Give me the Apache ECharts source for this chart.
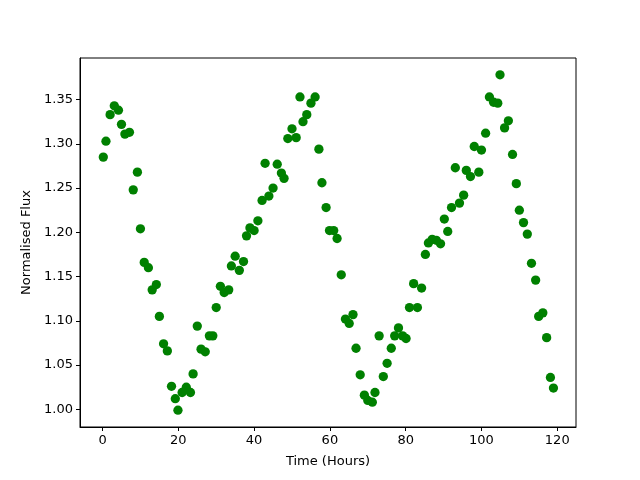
<!DOCTYPE html>
<html>
<head>
<meta charset="utf-8">
<script src="https://cdn.jsdelivr.net/npm/echarts@6/dist/echarts.min.js"></script>
<style>
  html, body { margin: 0; padding: 0; background: #fff; }
  #chart { width: 640px; height: 480px; }
</style>
</head>
<body>
<div id="chart"></div>
<script>
// time of each sample, hours
var hours = [
  0.2, 0.9, 2.0, 3.1, 4.2, 5.0, 5.9, 7.1, 8.1, 9.2,
  10.0, 11.0, 12.1, 13.1, 14.2, 15.0, 16.1, 17.1, 18.2, 19.2,
  19.9, 21.0, 22.1, 23.2, 23.9, 25.0, 26.0, 27.1, 28.2, 29.1,
  30.0, 31.1, 32.1, 33.3, 34.0, 35.0, 36.1, 37.2, 38.0, 38.9,
  40.0, 41.0, 42.1, 42.9, 43.9, 45.0, 46.1, 47.2, 47.9, 48.9,
  50.0, 51.1, 52.1, 52.9, 53.9, 55.0, 56.1, 57.1, 57.9, 59.0,
  59.9, 61.0, 61.9, 63.0, 64.1, 65.1, 66.1, 66.9, 68.0, 69.1,
  70.0, 71.2, 71.9, 73.0, 74.1, 75.1, 76.2, 77.1, 78.1, 79.2,
  80.1, 81.0, 82.1, 83.1, 84.2, 85.2, 86.0, 87.0, 88.1, 89.2,
  90.2, 91.1, 92.1, 93.1, 94.2, 95.3, 96.0, 97.1, 98.1, 99.3,
  100.0, 101.1, 102.1, 103.2, 104.3, 104.9, 106.1, 107.1, 108.2, 109.2,
  110.0, 111.1, 112.1, 113.2, 114.3, 115.1, 116.2, 117.2, 118.2, 119.0
];
// normalised flux
var flux = [
  1.285, 1.303, 1.333, 1.343, 1.338, 1.322, 1.311, 1.313, 1.248, 1.268,
  1.204, 1.166, 1.160, 1.135, 1.141, 1.105, 1.074, 1.066, 1.026, 1.012,
  0.999, 1.019, 1.025, 1.019, 1.040, 1.094, 1.068, 1.065, 1.083, 1.083,
  1.115, 1.139, 1.132, 1.135, 1.162, 1.173, 1.157, 1.167, 1.196, 1.205,
  1.202, 1.213, 1.236, 1.278, 1.241, 1.250, 1.277, 1.267, 1.261, 1.306,
  1.317, 1.307, 1.353, 1.325, 1.333, 1.346, 1.353, 1.294, 1.256, 1.228,
  1.202, 1.202, 1.193, 1.152, 1.102, 1.097, 1.107, 1.069, 1.039, 1.016,
  1.010, 1.008, 1.019, 1.083, 1.037, 1.052, 1.069, 1.083, 1.092, 1.083,
  1.080, 1.115, 1.142, 1.115, 1.137, 1.175, 1.188, 1.192, 1.191, 1.187,
  1.215, 1.201, 1.228, 1.273, 1.233, 1.242, 1.270, 1.263, 1.297, 1.268,
  1.293, 1.312, 1.353, 1.347, 1.346, 1.378, 1.318, 1.326, 1.288, 1.255,
  1.225, 1.211, 1.198, 1.165, 1.146, 1.105, 1.109, 1.081, 1.036, 1.024
];
var xTicks = [0, 20, 40, 60, 80, 100, 120];
var yTicks = [1.00, 1.05, 1.10, 1.15, 1.20, 1.25, 1.30, 1.35];

var points = [];
for (var i = 0; i < hours.length; i++) {
  points.push([hours[i], flux[i]]);
}

var font = 'DejaVu Sans';

var myChart = echarts.init(document.getElementById('chart'), null, { renderer: 'canvas' });
myChart.setOption({
  animation: false,
  backgroundColor: '#ffffff',
  textStyle: { fontFamily: font },
  grid: {
    left: 80, right: 64, top: 58, bottom: 53,
    show: true,
    borderColor: '#000',
    borderWidth: 1,
    backgroundColor: 'transparent'
  },
  xAxis: {
    type: 'value',
    min: -5.95,
    max: 124.95,
    name: 'Time (Hours)',
    nameLocation: 'middle',
    nameGap: 28,
    nameTextStyle: { color: '#000', fontSize: 13, fontFamily: font },
    splitLine: { show: false },
    axisLine: { show: true, onZero: false, lineStyle: { color: '#000', width: 1 } },
    axisTick: { show: true, length: 4, lineStyle: { color: '#000' }, customValues: xTicks },
    axisLabel: {
      color: '#000', fontSize: 13, fontFamily: font, margin: 7,
      customValues: xTicks
    }
  },
  yAxis: {
    type: 'value',
    min: 0.980,
    max: 1.397,
    name: 'Normalised Flux',
    nameLocation: 'middle',
    nameGap: 47,
    nameTextStyle: { color: '#000', fontSize: 13, fontFamily: font },
    splitLine: { show: false },
    axisLine: { show: true, onZero: false, lineStyle: { color: '#000', width: 1 } },
    axisTick: { show: true, length: 4, lineStyle: { color: '#000' }, customValues: yTicks },
    axisLabel: {
      color: '#000', fontSize: 13, fontFamily: font, margin: 7,
      customValues: yTicks,
      formatter: function (v) { return v.toFixed(2); }
    }
  },
  series: [{
    type: 'scatter',
    data: points,
    symbol: 'circle',
    symbolSize: 9.3,
    itemStyle: { color: '#008000', opacity: 1 }
  }]
});
</script>
</body>
</html>
